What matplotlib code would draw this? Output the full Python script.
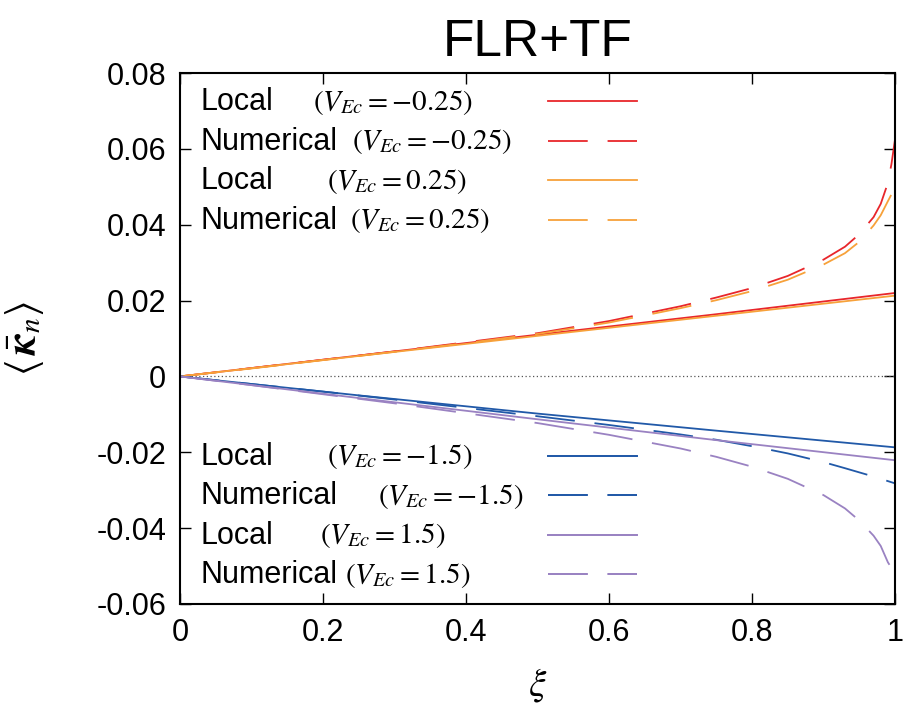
import matplotlib
matplotlib.use("Agg")
import matplotlib.pyplot as plt
from matplotlib.lines import Line2D

plt.rcParams["font.family"] = ["Liberation Sans", "DejaVu Sans"]
plt.rcParams["mathtext.fontset"] = "stix"
plt.rcParams["axes.unicode_minus"] = False

# datos
xi_local = [0.0, 0.25, 0.5, 0.75, 1.0]
loc_m025 = [0.0, 0.0055, 0.0110, 0.0164, 0.0220]
loc_p025 = [0.0, 0.0054, 0.0107, 0.0160, 0.0213]
loc_m15 = [0.0, -0.0050, -0.0098, -0.0143, -0.0187]
loc_p15 = [0.0, -0.0057, -0.0113, -0.0168, -0.0221]

xi_num = [0.0, 0.1, 0.2, 0.3, 0.4, 0.5, 0.6, 0.7, 0.75, 0.8, 0.85, 0.9,
          0.93, 0.95, 0.97, 0.98, 0.99, 0.995, 1.0]
num_m025 = [0.0, 0.0022, 0.0044, 0.0066, 0.0090, 0.0114, 0.0146, 0.0185,
            0.0208, 0.0233, 0.0265, 0.0308, 0.0342, 0.0375, 0.0420, 0.0455,
            0.0510, 0.0560, 0.0625]
num_p025 = [0.0, 0.0021, 0.0043, 0.0065, 0.0088, 0.0112, 0.0142, 0.0180,
            0.0201, 0.0225, 0.0255, 0.0295, 0.0325, 0.0355, 0.0398, 0.0425,
            0.0462, 0.0480, 0.0500]
num_m15 = [0.0, -0.0020, -0.0040, -0.0061, -0.0083, -0.0105, -0.0128, -0.0153,
           -0.0167, -0.0184, -0.0203, -0.0226, -0.0242, -0.0253, -0.0264,
           -0.0270, -0.0276, -0.0279, -0.0282]
num_p15 = [0.0, -0.0023, -0.0047, -0.0071, -0.0097, -0.0123, -0.0154, -0.0190,
           -0.0212, -0.0238, -0.0270, -0.0313, -0.0348, -0.0380, -0.0420,
           -0.0447, -0.0490, -0.0505, -0.0515]

xticks = [0, 0.2, 0.4, 0.6, 0.8, 1]
xtick_labels = ["0", "0.2", "0.4", "0.6", "0.8", "1"]
yticks = [-0.06, -0.04, -0.02, 0, 0.02, 0.04, 0.06, 0.08]
ytick_labels = ["-0.06", "-0.04", "-0.02", "0", "0.02", "0.04", "0.06", "0.08"]

# leyenda: palabra + parámetro, en dos bloques de cuatro filas
top_words = ["Local", "Numerical", "Local", "Numerical"]
top_params = [r"$\left(V_{Ec}=-0.25\right)$", r"$\left(V_{Ec}=-0.25\right)$",
              r"$\left(V_{Ec}=0.25\right)$", r"$\left(V_{Ec}=0.25\right)$"]
bot_words = ["Local", "Numerical", "Local", "Numerical"]
bot_params = [r"$\left(V_{Ec}=-1.5\right)$", r"$\left(V_{Ec}=-1.5\right)$",
              r"$\left(V_{Ec}=1.5\right)$", r"$\left(V_{Ec}=1.5\right)$"]

c_red, c_orange, c_blue, c_purple = "#e8262b", "#f7a13a", "#2159a8", "#9a82c2"
lw = 1.3
dash = (0, (22, 11))

fig = plt.figure(figsize=(9.07, 7.13), dpi=100)
ax = fig.add_axes([0.1985, 0.1529, 0.7883, 0.7447])

ax.axhline(0, color="#555555", lw=0.9, ls=(0, (1, 2)))

ax.plot(xi_local, loc_m025, color=c_red, lw=lw)
ax.plot(xi_num, num_m025, color=c_red, lw=lw, ls=dash)
ax.plot(xi_local, loc_p025, color=c_orange, lw=lw)
ax.plot(xi_num, num_p025, color=c_orange, lw=lw, ls=dash)
ax.plot(xi_local, loc_m15, color=c_blue, lw=lw)
ax.plot(xi_num, num_m15, color=c_blue, lw=lw, ls=dash)
ax.plot(xi_local, loc_p15, color=c_purple, lw=lw)
ax.plot(xi_num, num_p15, color=c_purple, lw=lw, ls=dash)

ax.set_xlim(0, 1)
ax.set_ylim(-0.06, 0.08)
ax.set_xticks(xticks)
ax.set_xticklabels(xtick_labels)
ax.set_yticks(yticks)
ax.set_yticklabels(ytick_labels)
ax.tick_params(direction="in", length=8, width=1, top=True, right=True,
               labelsize=22, pad=10)
for s in ax.spines.values():
    s.set_linewidth(1.5)

ax.set_title("FLR+TF", fontsize=37, pad=12)
ax.set_xlabel(r"$\xi$", fontsize=28, labelpad=13)
ax.set_ylabel(r"$\langle\,\bar{\boldsymbol{\kappa}}_n\rangle$", fontsize=30, labelpad=36)


def h(c, ls):
    return Line2D([], [], color=c, lw=lw, ls=ls)


# filas de 39.5 px; la leyenda sólo lleva las muestras de línea
pitch = 39.5 / 531
fs = 19
kw = dict(frameon=False, fontsize=fs, handlelength=3.37, handleheight=1.926,
          handletextpad=0, labelspacing=0, borderpad=0, borderaxespad=0)
groups = [
    (0.9825, [h(c_red, "-"), h(c_red, dash), h(c_orange, "-"), h(c_orange, dash)],
     top_words, top_params, [0.186, 0.240, 0.205, 0.238]),
    (0.3145, [h(c_blue, "-"), h(c_blue, dash), h(c_purple, "-"), h(c_purple, dash)],
     bot_words, bot_params, [0.205, 0.277, 0.196, 0.231]),
]
for top, handles, words, params, px in groups:
    leg = ax.legend(handles, [""] * 4, loc="upper left",
                    bbox_to_anchor=(0.515, top - 0.009), **kw)
    ax.add_artist(leg)
    for i in range(4):
        yc = top - pitch * (i + 0.5)
        ax.text(0.028, yc, words[i], transform=ax.transAxes, fontsize=22,
                va="center")
        ax.text(px[i], yc, params[i], transform=ax.transAxes, fontsize=21,
                va="center")

fig.savefig("out.png", dpi=100)
